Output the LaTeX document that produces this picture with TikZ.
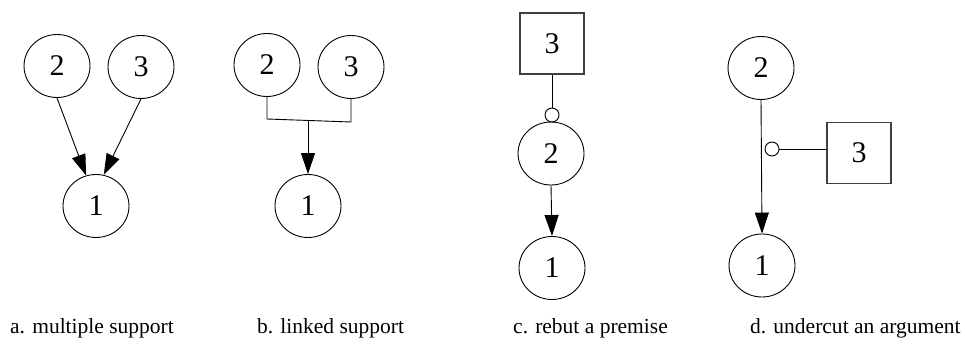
\documentclass[tikz,border=0pt]{standalone}
\usepackage{fontspec}
\setmainfont{Liberation Serif}
\usetikzlibrary{shapes.geometric,arrows.meta}
\tikzset{
  claim/.style={draw=black, line width=0.9pt, ellipse, minimum width=66pt, minimum height=63pt, inner sep=0pt, font=\fontsize{30}{30}\selectfont},
  attack/.style={draw=black!75, line width=1.1pt, rectangle, minimum width=64pt, minimum height=61pt, inner sep=0pt, font=\fontsize{30}{30}\selectfont},
  knob/.style={draw=black, line width=0.9pt, circle, minimum size=14pt, inner sep=0pt, fill=white},
  conn/.style={draw=black, line width=0.9pt},
  arr/.style={conn, -{Triangle[length=21pt, width=14pt]}},
  caption/.style={anchor=base west, inner sep=0pt, font=\fontsize{21.5}{21.5}\selectfont}
}
\begin{document}
\begin{tikzpicture}[x=1pt, y=-1pt]
\useasboundingbox (0,0) rectangle (965,347);
% a. multiple support
\node[claim] (c2a) at (57,66) {2};
\node[claim] (c3a) at (141,67) {3};
\node[claim] (c1a) at (96,206) {1};
\draw[arr] (c2a.south) -- (c1a.108);
\draw[arr] (c3a.south) -- (c1a.76);
\node[caption] (capa) at (10,333) {a. multiple support};
% b. linked support
\node[claim] (c2b) at (267,65) {2};
\node[claim] (c3b) at (351,67) {3};
\node[claim] (c1b) at (308,206) {1};
\coordinate (bl) at (267,119);
\coordinate (br) at (351,122);
\coordinate (jb) at (308,120.5);
\draw[conn] (c2b.south) -- (bl) -- (br) -- (c3b.south);
\draw[arr] (jb) -- (c1b.north);
\node[caption] (capb) at (257,333) {b. linked support};
% c. rebut a premise
\node[attack] (s3c) at (552,43.5) {3};
\node[knob] (kc) at (552,115) {};
\node[claim] (c2c) at (551,153.5) {2};
\node[claim] (c1c) at (552,268) {1};
\draw[conn] (s3c.south) -- (kc.north);
\draw[arr] (c2c.south) -- (c1c.north);
\node[caption] (capc) at (513,333) {c. rebut a premise};
% d. undercut an argument
\node[claim] (c2d) at (761,68) {2};
\node[claim] (c1d) at (762,265.5) {1};
\node[attack] (s3d) at (859,153) {3};
\node[knob] (kd) at (772,149) {};
\draw[arr] (c2d.south) -- (c1d.north);
\draw[conn] (kd.east) -- (kd.east -| s3d.west);
\node[caption] (capd) at (750,333) {d. undercut an argument};
\end{tikzpicture}
\end{document}
